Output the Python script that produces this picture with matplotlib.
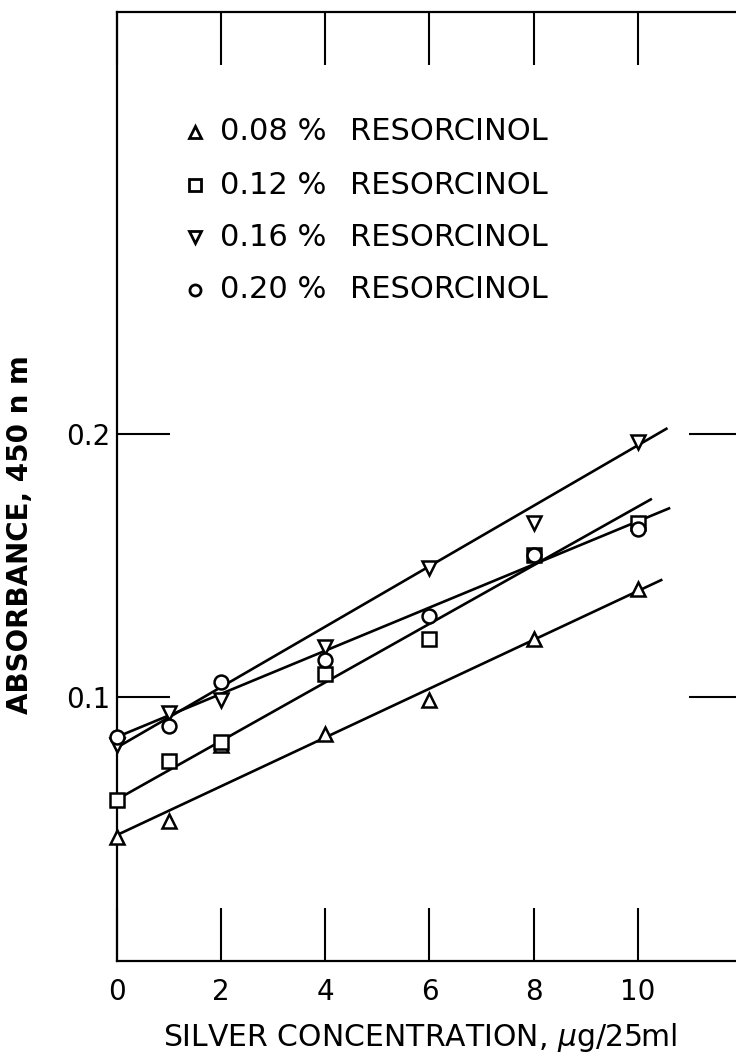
#!/usr/bin/env python3
"""
Absorbance at 450 nm vs silver concentration for four resorcinol levels.
"""

import matplotlib
matplotlib.use('Agg')
import matplotlib.pyplot as plt

# silver concentration, ug/25 ml
conc = [0, 1, 2, 4, 6, 8, 10]

# measured absorbance for each resorcinol level
abs_008 = [0.047, 0.053, 0.082, 0.086, 0.099, 0.122, 0.141]
abs_012 = [0.061, 0.076, 0.083, 0.109, 0.122, 0.154, 0.166]
abs_016 = [0.082, 0.094, 0.099, 0.119, 0.149, 0.166, 0.197]
abs_020 = [0.085, 0.089, 0.106, 0.114, 0.131, 0.154, 0.164]

# hand-drawn straight lines: start/end x and start/end absorbance
fit_x_008, fit_y_008 = [0, 10.45], [0.0478, 0.1445]
fit_x_012, fit_y_012 = [0, 10.25], [0.0613, 0.1751]
fit_x_016, fit_y_016 = [0, 10.55], [0.0810, 0.2019]
fit_x_020, fit_y_020 = [0, 10.60], [0.0850, 0.1717]

pct_labels = ['0.08 %', '0.12 %', '0.16 %', '0.20 %']
markers = ['^', 's', 'v', 'o']

x_ticks = [0, 2, 4, 6, 8, 10]
y_ticks = [0.1, 0.2]


def main():
    fig = plt.figure(figsize=(7.36, 10.62), dpi=100)
    ax = fig.add_axes([0.159, 0.0951, 0.849, 0.8936])

    series = [(abs_008, fit_x_008, fit_y_008),
              (abs_012, fit_x_012, fit_y_012),
              (abs_016, fit_x_016, fit_y_016),
              (abs_020, fit_x_020, fit_y_020)]

    for (vals, fx, fy), mk in zip(series, markers):
        ax.plot(fx, fy, color='black', linewidth=1.9, zorder=2)
        ax.plot(conc, vals, linestyle='none', marker=mk, markersize=10,
                markerfacecolor='white', markeredgecolor='black',
                markeredgewidth=1.8, zorder=3, clip_on=False)

    ax.set_xlim(0, 12)
    ax.set_ylim(0, 0.36)

    for side in ['left', 'right', 'top', 'bottom']:
        ax.spines[side].set_linewidth(1.6)

    ax.set_xticks(x_ticks)
    ax.set_xticklabels([str(t) for t in x_ticks])
    ax.set_yticks(y_ticks)
    ax.set_yticklabels(['0.1', '0.2'])
    ax.tick_params(axis='both', direction='in', length=38, width=1.5,
                   top=True, right=True, labelsize=20)
    ax.tick_params(axis='x', pad=12)
    ax.tick_params(axis='y', pad=5)

    # legend drawn by hand: marker, percentage, then RESORCINOL in a column
    rows_y = [0.8736, 0.8177, 0.7629, 0.7071]
    for pct, mk, ry in zip(pct_labels, markers, rows_y):
        ax.plot([0.125], [ry], transform=ax.transAxes, marker=mk,
                markersize=8, markerfacecolor='white',
                markeredgecolor='black', markeredgewidth=2.0,
                linestyle='none', clip_on=False)
        ax.text(0.165, ry, pct, transform=ax.transAxes, fontsize=22,
                ha='left', va='center')
        ax.text(0.373, ry, 'RESORCINOL', transform=ax.transAxes,
                fontsize=22, ha='left', va='center')

    fig.text(20 / 736, 1 - 535 / 1062, 'ABSORBANCE, 450 n m', rotation=90,
             fontsize=20, fontweight='bold', ha='center', va='center')
    fig.text(420 / 736, 1 - 1038 / 1062,
             'SILVER CONCENTRATION, $\\mu$g/25ml',
             fontsize=21.5, ha='center', va='center')

    fig.savefig('out.png', dpi=100)


if __name__ == "__main__":
    main()
